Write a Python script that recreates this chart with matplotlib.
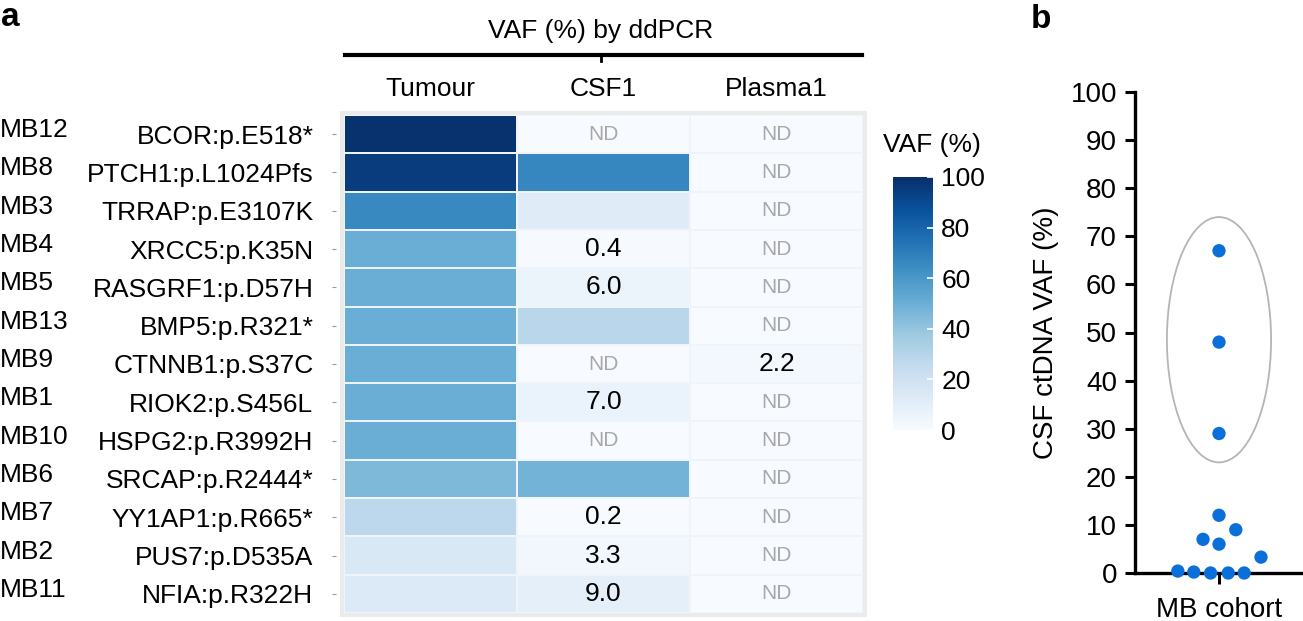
import numpy as np
import matplotlib
matplotlib.use("Agg")
import matplotlib.pyplot as plt
from matplotlib.patches import Ellipse
from matplotlib.lines import Line2D

plt.rcParams['font.family'] = ['Liberation Sans', 'DejaVu Sans']

# ---------------- data ----------------
samples = ["MB12", "MB8", "MB3", "MB4", "MB5", "MB13", "MB9", "MB1", "MB10",
           "MB6", "MB7", "MB2", "MB11"]
mutations = ["BCOR:p.E518*", "PTCH1:p.L1024Pfs", "TRRAP:p.E3107K", "XRCC5:p.K35N",
             "RASGRF1:p.D57H", "BMP5:p.R321*", "CTNNB1:p.S37C", "RIOK2:p.S456L",
             "HSPG2:p.R3992H", "SRCAP:p.R2444*", "YY1AP1:p.R665*", "PUS7:p.D535A",
             "NFIA:p.R322H"]
columns = ["Tumour", "CSF1", "Plasma1"]
tumour_vaf = [99, 95, 66, 50, 50, 50, 50, 50, 50, 45, 28, 15, 14]
csf1_vaf = [0, 67, 12, 0.4, 6.0, 29, 0, 7.0, 0, 48, 0.2, 3.3, 9.0]
plasma1_vaf = [0, 0, 0, 0, 0, 0, 2.2, 0, 0, 0, 0, 0, 0]
csf1_labels = ["ND", "", "", "0.4", "6.0", "", "ND", "7.0", "ND", "", "0.2", "3.3", "9.0"]
plasma1_labels = ["ND", "ND", "ND", "ND", "ND", "ND", "2.2", "ND", "ND", "ND", "ND", "ND", "ND"]
cbar_ticks = [0, 20, 40, 60, 80, 100]

# panel b
cohort_vaf = [67, 48, 29, 12, 9, 7, 6, 3.3, 0.4, 0.2, 0, 0, 0]
cohort_jitter = [0, 0, 0, 0, 0.20, -0.19, 0, 0.50, -0.49, -0.30, -0.10, 0.11, 0.30]
b_yticks = list(range(0, 101, 10))

# ---------------- layout helpers ----------------
W, H = 1303, 621
fig = plt.figure(figsize=(W / 100, H / 100), dpi=100)


def rect(x0, y0, x1, y1):
    return [x0 / W, 1 - y1 / H, (x1 - x0) / W, (y1 - y0) / H]


FS = 19

# ---------------- panel a: heatmap ----------------
bg = fig.add_axes(rect(340, 111, 867, 617))
bg.set_facecolor('#ebebeb')
bg.set_xticks([]); bg.set_yticks([])
for s in bg.spines.values():
    s.set_visible(False)

ax = fig.add_axes(rect(344, 115, 863, 613))
data = np.array([tumour_vaf, csf1_vaf, plasma1_vaf]).T
cmap = plt.get_cmap('Blues')
mesh = ax.pcolormesh(data, cmap=cmap, vmin=0, vmax=100, edgecolors='#eef4fa', linewidth=1.3)
ax.set_xlim(0, 3)
ax.set_ylim(len(samples), 0)
ax.spines['left'].set_position(('outward', 6))
for s in ax.spines.values():
    s.set_visible(False)
ax.set_xticks([])
ax.set_yticks(np.arange(len(samples)) + 0.5)
ax.set_yticklabels(mutations)
ax.tick_params(axis='y', length=3, color='#999999', pad=13, labelsize=FS)

for i in range(len(samples)):
    for j, labels in ((1, csf1_labels), (2, plasma1_labels)):
        lab = labels[i]
        if not lab:
            continue
        if lab == "ND":
            ax.text(j + 0.5, i + 0.5, lab, ha='center', va='center', fontsize=15, color='#a8a8a8')
        else:
            ax.text(j + 0.5, i + 0.5, lab, ha='center', va='center', fontsize=FS, color='black')

for i, s in enumerate(samples):
    y = 115 + (i + 0.5) * (613 - 115) / len(samples)
    fig.text(0 / W, 1 - (y - 4) / H, s, ha='left', va='center', fontsize=FS)

# column headers
for j, c in enumerate(columns):
    x = 344 + (j + 0.5) * (863 - 344) / 3
    fig.text(x / W, 1 - 89 / H, c, ha='center', va='center', fontsize=FS)

fig.text(601 / W, 1 - 31 / H, "VAF (%) by ddPCR", ha='center', va='center', fontsize=FS)
fig.add_artist(Line2D([345 / W, 862 / W], [1 - 55 / H, 1 - 55 / H], color='black', lw=3,
                      transform=fig.transFigure))
fig.add_artist(Line2D([601 / W, 601 / W], [1 - 55 / H, 1 - 61 / H], color='black', lw=2,
                      transform=fig.transFigure))

fig.text(1 / W, 1 - 18 / H, "a", ha='left', va='center', fontsize=24, fontweight='bold')
fig.text(1031 / W, 1 - 20 / H, "b", ha='left', va='center', fontsize=24, fontweight='bold')

# colorbar
cax = fig.add_axes(rect(893, 177, 933, 430))
cb = fig.colorbar(mesh, cax=cax, ticks=cbar_ticks)
cb.outline.set_visible(False)
cax.tick_params(direction='in', color='white', length=4, width=1.2, labelsize=FS, pad=6)
fig.text(932 / W, 1 - 145 / H, "VAF (%)", ha='center', va='center', fontsize=FS)

# ---------------- panel b ----------------
FSB = 20
bx = fig.add_axes(rect(1135, 92, 1303, 573))
bx.scatter(cohort_jitter, cohort_vaf, s=92, color='#0a6fd9', edgecolors='none',
           clip_on=False, zorder=3)
bx.add_patch(Ellipse((0, 48.5), 1.24, 51, fill=False, edgecolor='#b5b5b5', lw=1.3))
bx.set_xlim(-1, 1)
bx.set_ylim(0, 100)
bx.set_yticks(b_yticks)
bx.set_xticks([0])
bx.set_xticklabels(["MB cohort"])
bx.tick_params(axis='y', labelsize=FSB, length=7, width=2.2, pad=6)
bx.tick_params(axis='x', labelsize=FSB, length=8, width=2.2, pad=9)
bx.spines['top'].set_visible(False)
bx.spines['right'].set_visible(False)
bx.spines['left'].set_linewidth(2.4)
bx.spines['bottom'].set_linewidth(2.4)
bx.set_ylabel("CSF ctDNA VAF (%)", fontsize=FSB, labelpad=8)

fig.savefig("out.png", dpi=100)
